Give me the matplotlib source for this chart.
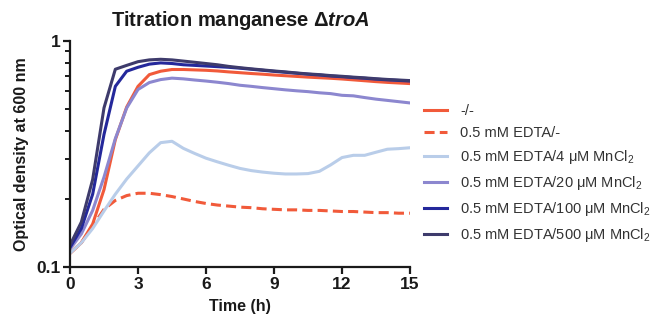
import numpy as np
import matplotlib
matplotlib.use('Agg')
import matplotlib.pyplot as plt
from matplotlib.ticker import FixedLocator, FixedFormatter, LogLocator, NullFormatter

plt.rcParams['font.family'] = ['Liberation Sans', 'DejaVu Sans']
plt.rcParams['mathtext.fontset'] = 'custom'
plt.rcParams['mathtext.rm'] = 'Liberation Sans'
plt.rcParams['mathtext.it'] = 'Liberation Sans:italic:bold'
plt.rcParams['mathtext.bf'] = 'Liberation Sans:bold'

time = [0, 0.5, 1, 1.5, 2, 2.5, 3, 3.5, 4, 4.5, 5, 5.5, 6, 6.5, 7, 7.5,
        8, 8.5, 9, 9.5, 10, 10.5, 11, 11.5, 12, 12.5, 13, 13.5, 14, 14.5, 15]

ctrl = [0.115, 0.128, 0.155, 0.22, 0.366, 0.51, 0.63, 0.71, 0.735, 0.748, 0.748,
        0.745, 0.742, 0.737, 0.730, 0.724, 0.718, 0.713, 0.707, 0.702, 0.697,
        0.692, 0.688, 0.684, 0.679, 0.673, 0.667, 0.661, 0.656, 0.652, 0.648]
edta = [0.115, 0.128, 0.152, 0.18, 0.197, 0.207, 0.212, 0.212, 0.209, 0.205, 0.200,
        0.195, 0.191, 0.188, 0.186, 0.184, 0.183, 0.181, 0.180, 0.179, 0.179,
        0.178, 0.178, 0.177, 0.176, 0.176, 0.175, 0.174, 0.174, 0.173, 0.173]
mn4 = [0.115, 0.128, 0.148, 0.177, 0.21, 0.245, 0.28, 0.32, 0.355, 0.36, 0.335,
       0.318, 0.303, 0.292, 0.282, 0.273, 0.267, 0.263, 0.260, 0.258, 0.258,
       0.259, 0.265, 0.283, 0.305, 0.312, 0.312, 0.322, 0.332, 0.334, 0.337]
mn20 = [0.12, 0.14, 0.178, 0.25, 0.37, 0.505, 0.61, 0.655, 0.675, 0.685, 0.68,
        0.672, 0.665, 0.657, 0.648, 0.637, 0.630, 0.622, 0.615, 0.608, 0.602,
        0.597, 0.590, 0.585, 0.575, 0.572, 0.562, 0.553, 0.546, 0.539, 0.532]
mn100 = [0.122, 0.148, 0.21, 0.386, 0.63, 0.735, 0.765, 0.79, 0.80, 0.795, 0.785,
         0.78, 0.775, 0.77, 0.765, 0.758, 0.75, 0.742, 0.734, 0.727, 0.72,
         0.713, 0.707, 0.70, 0.695, 0.689, 0.684, 0.678, 0.673, 0.669, 0.665]
mn500 = [0.125, 0.158, 0.244, 0.506, 0.75, 0.78, 0.81, 0.825, 0.83, 0.825, 0.815,
         0.805, 0.795, 0.785, 0.772, 0.762, 0.753, 0.745, 0.737, 0.730, 0.722,
         0.715, 0.710, 0.703, 0.698, 0.692, 0.687, 0.681, 0.676, 0.672, 0.668]

labels = ['-/-', '0.5 mM EDTA/-',
          '0.5 mM EDTA/4 \u03bcM MnCl$_2$',
          '0.5 mM EDTA/20 \u03bcM MnCl$_2$',
          '0.5 mM EDTA/100 \u03bcM MnCl$_2$',
          '0.5 mM EDTA/500 \u03bcM MnCl$_2$']

fig = plt.figure(figsize=(6.52, 3.21), dpi=100)
ax = fig.add_axes([70/652, 1-267/321, 340/652, 226/321])

lw = 2.2
ax.plot(time, ctrl, color='#f15a3a', lw=lw, label=labels[0])
ax.plot(time, edta, color='#f15a3a', lw=lw, dashes=(3.3, 1.7), label=labels[1])
ax.plot(time, mn4, color='#b9cde9', lw=lw, label=labels[2])
ax.plot(time, mn20, color='#8c87cf', lw=lw, label=labels[3])
ax.plot(time, mn100, color='#24289b', lw=lw, label=labels[4])
ax.plot(time, mn500, color='#3e3b6c', lw=lw, label=labels[5])

ax.set_yscale('log')
ax.set_xlim(0, 15)
ax.set_ylim(0.1, 1)
ax.set_xticks([0, 3, 6, 9, 12, 15])
ax.yaxis.set_major_locator(FixedLocator([0.1, 1]))
ax.yaxis.set_major_formatter(FixedFormatter(['0.1', '1']))
ax.yaxis.set_minor_locator(LogLocator(base=10, subs=np.arange(2, 10)))
ax.yaxis.set_minor_formatter(NullFormatter())

for s in ['top', 'right']:
    ax.spines[s].set_visible(False)
for s in ['left', 'bottom']:
    ax.spines[s].set_linewidth(1.6)
    ax.spines[s].set_color('#1a1a1a')
ax.tick_params(which='major', length=5, width=1.6, labelsize=12.5, pad=2, color='#1a1a1a')
ax.tick_params(which='minor', length=3.5, width=1.4, color='#1a1a1a')
for t in ax.get_xticklabels() + ax.get_yticklabels():
    t.set_fontweight('bold')
    t.set_color('#1a1a1a')

ax.set_xlabel('Time (h)', fontsize=11.5, fontweight='bold', color='#1a1a1a', labelpad=5)
ax.set_ylabel('Optical density at 600 nm', fontsize=11.5, fontweight='bold', color='#1a1a1a', labelpad=5)
ax.set_title('Titration manganese \u0394$\\mathit{troA}$', fontsize=14.5,
             fontweight='bold', color='#1a1a1a', pad=11)

fig.legend(loc='upper left', bbox_to_anchor=(424/652, 1-104/321), frameon=False,
           fontsize=10.5, handlelength=1.6, handletextpad=0.9, labelspacing=0.55,
           borderpad=0, borderaxespad=0, labelcolor='#333333')

fig.savefig('out.png', dpi=100)
